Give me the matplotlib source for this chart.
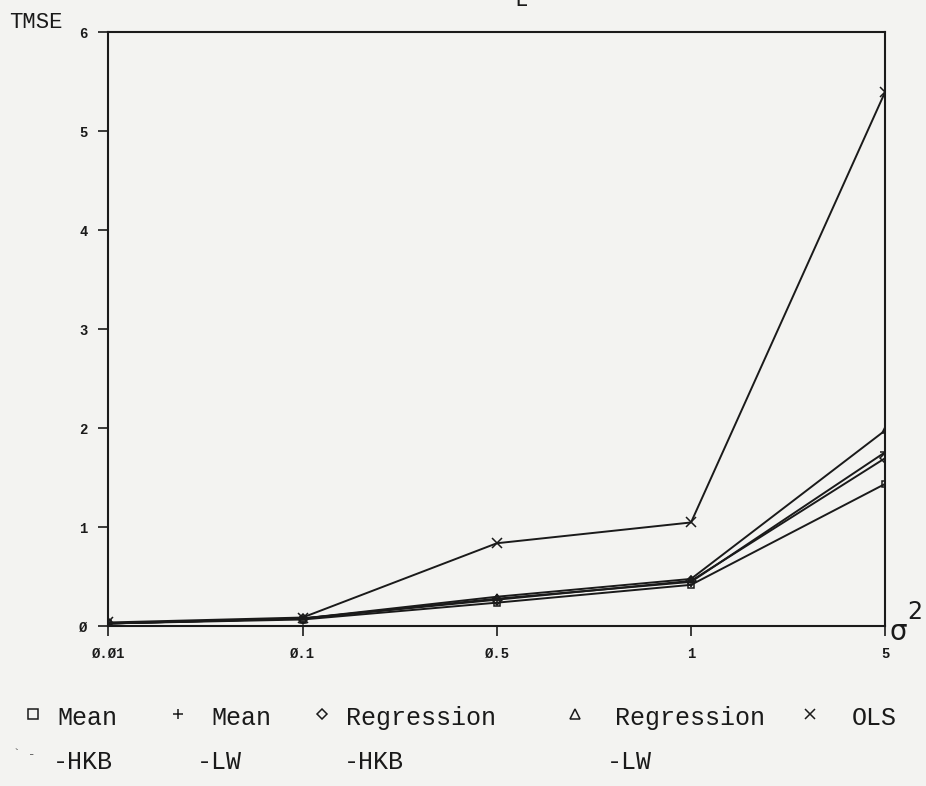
import matplotlib
matplotlib.use("Agg")
import matplotlib.pyplot as plt

# sigma^2 levels (plotted at equal spacing) and TMSE per estimator
sigma2_labels = ["0.01", "0.1", "0.5", "1", "5"]
mean_hkb = [0.03, 0.07, 0.24, 0.42, 1.44]
mean_lw = [0.03, 0.08, 0.28, 0.45, 1.76]
reg_hkb = [0.03, 0.08, 0.27, 0.46, 1.70]
reg_lw = [0.03, 0.08, 0.30, 0.48, 1.98]
ols = [0.04, 0.09, 0.84, 1.05, 5.40]

y_ticks = [0, 1, 2, 3, 4, 5, 6]

BG = "#f3f3f1"
INK = "#1a1a1a"
MONO = "Liberation Mono"

fig = plt.figure(figsize=(9.26, 7.86), dpi=100, facecolor=BG)
ax = fig.add_axes([0.117, 0.203, 0.839, 0.756], facecolor=BG)

x = list(range(len(sigma2_labels)))
series = [
    (mean_hkb, "s"),
    (mean_lw, "+"),
    (reg_hkb, "D"),
    (reg_lw, "^"),
    (ols, "x"),
]
for vals, mk in series:
    ax.plot(x, vals, color=INK, lw=1.4, marker=mk, markersize=7 if mk in "x+" else 5,
            markerfacecolor="none", markeredgecolor=INK, markeredgewidth=1.1)

ax.set_xlim(0, 4)
ax.set_ylim(0, 6)
ax.set_xticks(x)
ax.set_xticklabels([s.replace("0", "\u00d8") for s in sigma2_labels])
ax.set_yticks(y_ticks)
ax.set_yticklabels([str(v).replace("0", "\u00d8") for v in y_ticks])
ax.tick_params(direction="out", length=7, width=1.2, color=INK,
               labelsize=10, labelcolor=INK, pad=8)
for lab in ax.get_xticklabels() + ax.get_yticklabels():
    lab.set_family(MONO)
    lab.set_fontweight("bold")
for sp in ax.spines.values():
    sp.set_linewidth(1.5)
    sp.set_color(INK)

# axis captions
fig.text(0.010, 0.972, "TMSE", family=MONO, fontsize=16, color=INK, va="center")
fig.text(0.961, 0.196, "σ", family="DejaVu Sans", fontsize=20, color=INK, va="center")
fig.text(0.980, 0.222, "2", family="DejaVu Sans", fontsize=17, color=INK, va="center")
fig.text(0.556, 1.0, "L", family=MONO, fontsize=16, color=INK, va="center")

# legend written out as text in two rows
row1, row2 = 0.087, 0.031
legend_items = [
    (0.030, "s", 0.062, "Mean", 0.057, "-HKB"),
    (0.186, "+", 0.228, "Mean", 0.213, "-LW"),
    (0.342, "D", 0.374, "Regression", 0.371, "-HKB"),
    (0.615, "^", 0.664, "Regression", 0.655, "-LW"),
    (0.869, "x", 0.920, "OLS", None, None),
]
for mx, mk, tx, t1, t2x, t2 in legend_items:
    fig.lines.append(plt.Line2D([mx + 0.006], [row1 + 0.004], transform=fig.transFigure,
                                marker=mk, markersize=7 if mk != "D" else 5,
                                markerfacecolor="none", markeredgecolor=INK,
                                markeredgewidth=1.1, linestyle="none"))
    fig.text(tx, row1, t1, family=MONO, fontsize=18, color=INK, va="center")
    if t2:
        fig.text(t2x, row2, t2, family=MONO, fontsize=18, color=INK, va="center")
fig.text(0.014, 0.040, "` -", family=MONO, fontsize=9, color="#555555", va="center")

fig.savefig("out.png", dpi=100, facecolor=BG)
